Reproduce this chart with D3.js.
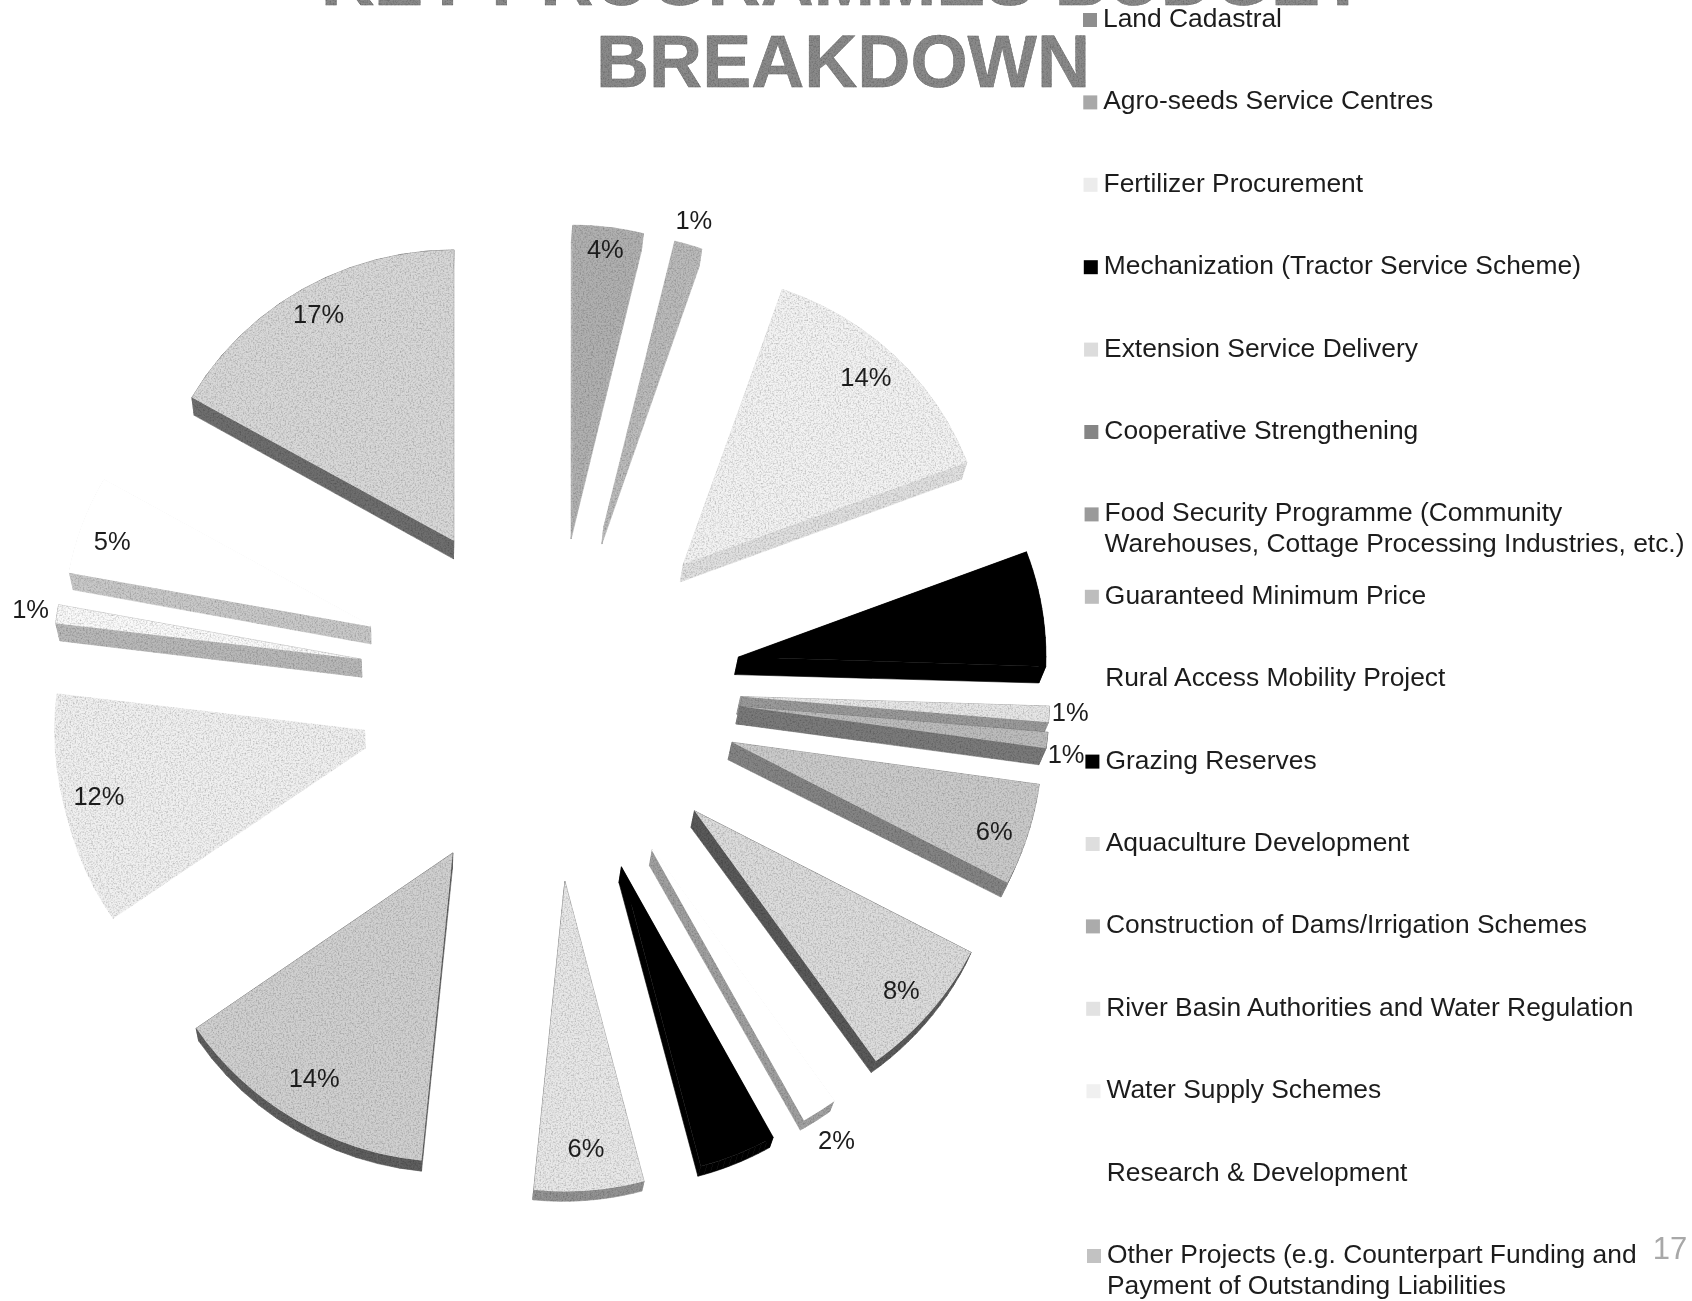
<!DOCTYPE html>
<html>
<head>
<meta charset="utf-8">
<script src="https://cdn.jsdelivr.net/npm/d3@7"></script>
<style>
  html, body { margin: 0; padding: 0; background: #fff; overflow: hidden; }
  text { font-family: "Liberation Sans", Arial, sans-serif; }
</style>
</head>
<body>
<div id="chart"></div>
<script>
// budget share of each programme, clockwise from 12 o'clock
const categories = [
  "Land Cadastral", "Agro-seeds Service Centres", "Fertilizer Procurement",
  "Mechanization (Tractor Service Scheme)", "Extension Service Delivery",
  "Cooperative Strengthening",
  "Food Security Programme (Community\nWarehouses, Cottage Processing Industries, etc.)",
  "Guaranteed Minimum Price", "Rural Access Mobility Project", "Grazing Reserves",
  "Aquaculture Development", "Construction of Dams/Irrigation Schemes",
  "River Basin Authorities and Water Regulation", "Water Supply Schemes",
  "Research & Development",
  "Other Projects (e.g. Counterpart Funding and\nPayment of Outstanding Liabilities"
];
const shares = [3.8, 1.5, 14.0, 6.2, 0.85, 0.85, 5.4, 7.5, 1.8, 4.0, 5.7, 13.8, 11.5, 1.0, 5.3, 16.8];
const shareLabels = ["4%", "1%", "14%", "", "1%", "1%", "6%", "8%", "2%", "", "6%", "14%", "12%", "1%", "5%", "17%"];

const topGrey = ["#b0b0b0", "#bababa", "#f3f3f3", "#000000", "#e6e6e6", "#bcbcbc", "#cacaca", "#dcdcdc",
                 "#ffffff", "#000000", "#e8e8e8", "#d0d0d0", "#f0f0f0", "#fafafa", "#ffffff", "#d8d8d8"];
const sideGrey = ["#b0b0b0", "#bababa", "#e0e0e0", "#000000", "#9a9a9a", "#7a7a7a", "#848484", "#5a5a5a",
                  "#a0a0a0", "#000000", "#929292", "#5e5e5e", "#f0f0f0", "#b8b8b8", "#c8c8c8", "#6e6e6e"];
const swatchGrey = ["#8e8e8e", "#a8a8a8", "#ececec", "#000000", "#dcdcdc", "#858585", "#9a9a9a", "#bdbdbd",
                    "#ffffff", "#000000", "#dedede", "#ababab", "#e2e2e2", "#f0f0f0", "#ffffff", "#c2c2c2"];
// how far out each % label sits, as a part of the radius, and how many degrees it is turned off the slice middle
const labelReach = [0.9, 1.05, 0.86, 0, 1.085, 1.085, 0.91, 0.9, 1.13, 0, 0.88, 0.87, 0.9, 1.1, 0.895, 0.87];
const labelTurn = [0, 0, 0, 0, -0.6, 2, 1, 0, 0, 0, 0, 1, 0, 0, -1.7, -0.5];

const width = 1692, height = 1301;
const cx = 550, cy = 701;      // pie centre before the explosion
const radius = 304;
const explodeX = 191, explodeY = 181, lift = 15;
const farX = 420, farY = 2150; // where the depth lines meet

const svg = d3.select("#chart").append("svg")
  .attr("width", width).attr("height", height);

const defs = svg.append("defs");
const grain = defs.append("filter").attr("id", "grain")
  .attr("filterUnits", "userSpaceOnUse")
  .attr("x", 0).attr("y", 0).attr("width", width).attr("height", height);
grain.append("feTurbulence").attr("type", "fractalNoise").attr("baseFrequency", 0.6)
  .attr("numOctaves", 2).attr("seed", 4).attr("result", "n");
grain.append("feColorMatrix").attr("in", "n").attr("type", "matrix")
  .attr("values", "0 0 0 0 0  0 0 0 0 0  0 0 0 0 0  1 0 0 0 -0.42").attr("result", "dots");
grain.append("feComposite").attr("in", "dots").attr("in2", "SourceAlpha")
  .attr("operator", "in").attr("result", "speck");
const gm = grain.append("feMerge");
gm.append("feMergeNode").attr("in", "SourceGraphic");
gm.append("feMergeNode").attr("in", "speck");

const soft = defs.append("filter").attr("id", "soft")
  .attr("filterUnits", "userSpaceOnUse")
  .attr("x", 0).attr("y", 0).attr("width", width).attr("height", height);
soft.append("feGaussianBlur").attr("stdDeviation", 0.5);

/////// title, first line runs off the top of the scan
const titleG = svg.append("g").attr("text-anchor", "middle")
  .attr("font-size", 73.5).attr("font-weight", "bold");
["KEY PROGRAMMES BUDGET", "BREAKDOWN"].forEach((t, i) => {
  titleG.append("text").attr("x", 843).attr("y", 5 + i * 82)
    .attr("fill", "#8a8a8a").attr("stroke", "#707070").attr("stroke-width", 0.5)
    .attr("filter", "url(#grain)").text(t);
});

/////// pie
const pie = d3.pie().sort(null).value(d => d);
const slices = pie(shares);
const arc = d3.arc().innerRadius(0).outerRadius(radius);

function apexOf(d) {
  const mid = (d.startAngle + d.endAngle) / 2;
  const s = Math.sin(mid), c = Math.cos(mid);
  return [cx + explodeX * s, cy - explodeY * c - lift * s * s];
}
// perspective: front slices a bit bigger, side slices wider, upper side slices flatter
function sizeOf(d) {
  const mid = (d.startAngle + d.endAngle) / 2;
  const s = Math.abs(Math.sin(mid)), c = Math.cos(mid);
  const k = 1 - 0.02 * c;
  return [k * (1 + 0.015 * s), k * (1 - 0.06 * s * Math.max(0, c))];
}
// depth lines lean in to a far point under the pie
function dropped(p) {
  const vx = farX - p[0], vy = farY - p[1];
  const len = Math.hypot(vx, vy);
  const depth = 18 - 8 * Math.max(0, (p[1] - 760) / 430);
  return [p[0] + vx / len * depth, p[1] + vy / len * depth];
}

const line = d3.line();

const sliceG = svg.append("g").attr("filter", "url(#soft)")
  .selectAll("g").data(slices).join("g");

sliceG.each(function (d, i) {
  const g = d3.select(this);
  const a = apexOf(d), k = sizeOf(d);
  const angles = d3.range(0, 13).map(t => d.startAngle + (d.endAngle - d.startAngle) * t / 12);
  const outline = [a].concat(angles.map(t => {
    const p = d3.pointRadial(t, radius);
    return [a[0] + p[0] * k[0], a[1] + p[1] * k[1]];
  }));
  outline.push(a);
  const edges = d3.pairs(outline);
  const side = g.append("g").attr("fill", sideGrey[i]).attr("stroke", sideGrey[i]).attr("stroke-width", 0.6);
  if (sideGrey[i] !== "#000000") side.attr("filter", "url(#grain)");
  side.selectAll("path").data(edges).join("path")
    .attr("d", e => line([e[0], e[1], dropped(e[1]), dropped(e[0])]) + "Z");
  // filter goes on a plain wrapper, its region is in page coordinates
  const topWrap = g.append("g");
  if (topGrey[i] !== "#ffffff" && topGrey[i] !== "#000000") topWrap.attr("filter", "url(#grain)");
  const top = topWrap.append("path")
    .attr("transform", `translate(${a[0]},${a[1]}) scale(${k[0]},${k[1]})`)
    .attr("d", arc(d)).attr("fill", topGrey[i]);
  if (topGrey[i] === "#ffffff") top.attr("stroke", "#ffffff").attr("stroke-width", 1.5);
});

/////// % labels
function labelAt(d, i) {
  const mid = (d.startAngle + d.endAngle) / 2 + labelTurn[i] * Math.PI / 180;
  const a = apexOf(d);
  return [a[0] + Math.sin(mid) * radius * labelReach[i], a[1] - Math.cos(mid) * radius * labelReach[i] + 9];
}
svg.append("g").attr("font-size", 25.5).attr("text-anchor", "middle").attr("fill", "#1c1c1c")
  .attr("filter", "url(#soft)")
  .selectAll("text").data(slices).join("text")
  .attr("x", (d, i) => labelAt(d, i)[0])
  .attr("y", (d, i) => labelAt(d, i)[1])
  .text((d, i) => shareLabels[i]);

/////// legend
const legendY = d3.scaleLinear().domain([0, categories.length - 1]).range([27, 1263]);
const legendX = d3.scaleLinear().domain([0, categories.length - 1]).range([1103, 1107]);

const legend = svg.append("g").attr("filter", "url(#soft)")
  .selectAll("g").data(categories).join("g")
  .attr("transform", (d, i) => `translate(${legendX(i)},${legendY(i)})`);

legend.append("rect").attr("x", -20).attr("y", -14).attr("width", 14).attr("height", 14)
  .attr("fill", (d, i) => swatchGrey[i]);

legend.append("text").attr("font-size", 26.4).attr("fill", "#1c1c1c")
  .each(function (d) {
    const t = d3.select(this);
    d.split("\n").forEach((part, j) => {
      t.append("tspan").attr("x", 0).attr("dy", j ? 31 : 0).text(part);
    });
  });

svg.append("text").attr("x", 1670).attr("y", 1259).attr("text-anchor", "middle")
  .attr("font-size", 31).attr("fill", "#a8a8a8").text("17");
</script>
</body>
</html>
